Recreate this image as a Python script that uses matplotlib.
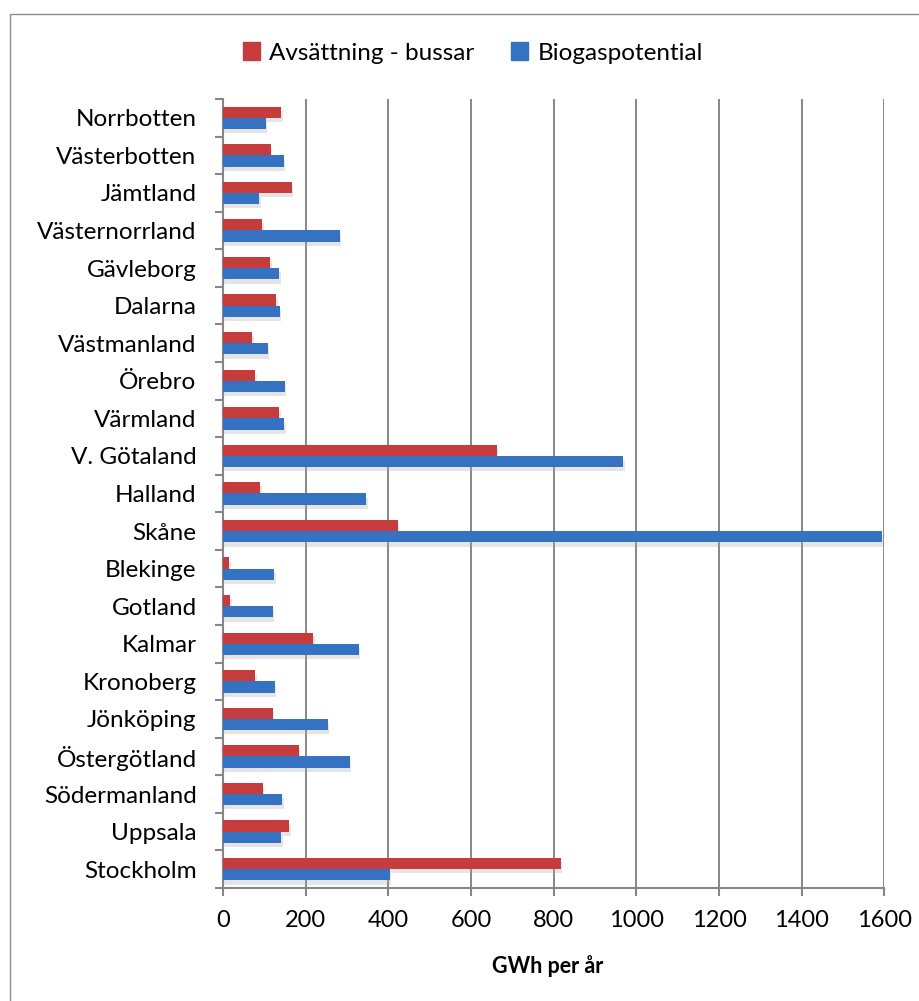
import numpy as np
import matplotlib
matplotlib.use('Agg')
import matplotlib.pyplot as plt
import matplotlib.patheffects as pe
from matplotlib.patches import Patch, Rectangle

# Regions from bottom (Stockholm) to top (Norrbotten)
regions = ['Stockholm', 'Uppsala', 'Södermanland', 'Östergötland', 'Jönköping',
           'Kronoberg', 'Kalmar', 'Gotland', 'Blekinge', 'Skåne', 'Halland',
           'V. Götaland', 'Värmland', 'Örebro', 'Västmanland', 'Dalarna',
           'Gävleborg', 'Västernorrland', 'Jämtland', 'Västerbotten', 'Norrbotten']

bussar = [817, 160, 97, 184, 121, 78, 218, 18, 15, 423, 90,
          663, 136, 78, 71, 129, 114, 95, 167, 116, 141]

biogas = [403, 141, 143, 307, 254, 126, 328, 121, 124, 1594, 347,
          968, 148, 150, 109, 138, 136, 283, 88, 147, 104]

xticks = [0, 200, 400, 600, 800, 1000, 1200, 1400, 1600]

red = '#C63B3B'
blue = '#3572C2'
gray = '#878787'

plt.rcParams['font.family'] = ['Lato', 'DejaVu Sans']

fig = plt.figure(figsize=(9.2, 10.01), dpi=100)
ax = fig.add_axes([0.2424, 0.1129, 0.9614 - 0.2424, 0.9011 - 0.1129])

y = np.arange(len(regions))
shadow = [pe.SimplePatchShadow(offset=(1, -3), shadow_rgbFace='#aaaaaa', alpha=0.3), pe.Normal()]
b1 = ax.barh(y + 0.15, bussar, height=0.3, color=red, zorder=3)
b2 = ax.barh(y - 0.15, biogas, height=0.3, color=blue, zorder=3)
for bar in list(b1) + list(b2):
    bar.set_path_effects(shadow)

ax.set_xlim(0, 1600)
ax.set_ylim(-0.5, len(regions) - 0.5)
ax.set_xticks(xticks)
ax.set_xticklabels([str(v) for v in xticks], fontsize=17)
ax.set_yticks(y)
ax.set_yticklabels(regions, fontsize=17.5)
ax.set_yticks(np.arange(-0.5, len(regions)), minor=True)

ax.tick_params(axis='y', which='major', length=0, pad=19)
ax.tick_params(axis='y', which='minor', length=6, width=1.5, color=gray, direction='out')
ax.tick_params(axis='x', which='major', length=6, width=1.5, color=gray, pad=10)

ax.grid(axis='x', color=gray, linewidth=1.4, zorder=0)
ax.set_axisbelow(True)
for s in ['top', 'right']:
    ax.spines[s].set_visible(False)
for s in ['left', 'bottom']:
    ax.spines[s].set_color(gray)
    ax.spines[s].set_linewidth(1.5)

ax.set_xlabel('GWh per år', fontsize=15.5, fontweight='bold')
ax.xaxis.set_label_coords(0.49, -0.085)

handles = [Patch(color=red), Patch(color=blue)]
fig.legend(handles, ['Avsättning - bussar', 'Biogaspotential'], loc='center',
           bbox_to_anchor=(473 / 920, 1 - 53 / 1001), ncol=2, frameon=False,
           fontsize=17.5, handlelength=0.7, handleheight=0.7, handletextpad=0.4,
           columnspacing=1.5)

# outer chart frame
fig.patches.append(Rectangle((10 / 920, -0.05), 1.0, 1 - 14 / 1001 + 0.05,
                             transform=fig.transFigure, fill=False,
                             edgecolor='#8c8c8c', linewidth=1.0))

fig.savefig('out.png', dpi=100)
